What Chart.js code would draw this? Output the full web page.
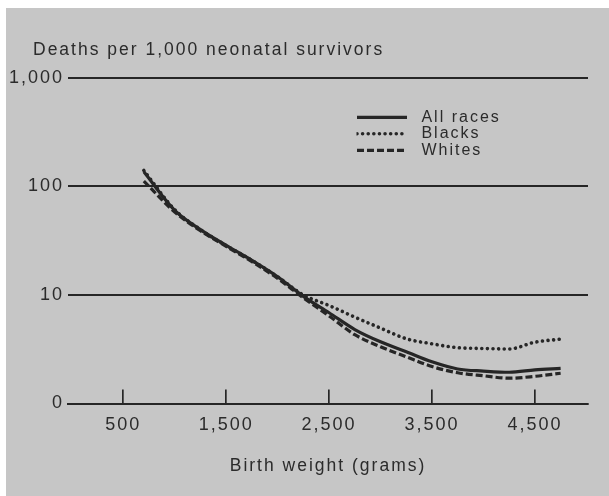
<!DOCTYPE html>
<html>
<head>
<meta charset="utf-8">
<script src="https://cdn.jsdelivr.net/npm/chart.js@4/dist/chart.umd.min.js"></script>
<style>
  html, body { margin: 0; padding: 0; background: #ffffff; }
  #wrap { position: relative; width: 609px; height: 496px; }
  canvas { display: block; }
</style>
</head>
<body>
<div id="wrap"><canvas id="c" width="609" height="496"></canvas></div>
<script>
// ---- data ----
const birthWeights = [700, 1000, 1250, 1500, 1750, 2000, 2250, 2500, 2750, 3000, 3250, 3500, 3750, 4000, 4250, 4500, 4750];
const allRaces = [136, 60, 40, 28.6, 20.8, 14.7, 9.7, 6.85, 4.8, 3.7, 3.0, 2.42, 2.08, 1.99, 1.94, 2.04, 2.11];
const blacks   = [140, 61, 40, 28.5, 20.8, 14.7, 10.0, 8.0, 6.25, 4.95, 3.95, 3.55, 3.27, 3.21, 3.18, 3.67, 3.92];
const whites   = [112, 58, 39, 28, 20.3, 14.2, 9.4, 6.4, 4.3, 3.33, 2.69, 2.19, 1.92, 1.80, 1.71, 1.78, 1.90];
const seriesNames = ['All races', 'Blacks', 'Whites'];
const xTickValues = [500, 1500, 2500, 3500, 4500];
const xTickLabels = ['500', '1,500', '2,500', '3,500', '4,500'];
const yTickValues = [1, 10, 100, 1000];
const yTickLabels = ['0', '10', '100', '1,000'];
const titleText = 'Deaths per 1,000 neonatal survivors';
const xTitleText = 'Birth weight (grams)';

const INK = '#2b2b2b';
const LINE = '#262626';
const BG = '#c6c6c6';
const FONT = "'Liberation Sans', Arial, Helvetica, sans-serif";

function pts(vals) { return birthWeights.map((x, i) => ({ x: x, y: vals[i] })); }

const spacingPlugin = {
  id: 'spacing',
  beforeUpdate(chart) { chart.ctx.letterSpacing = '2px'; },
  beforeDraw(chart) {
    const ctx = chart.ctx;
    ctx.letterSpacing = '2px';
    ctx.save();
    ctx.fillStyle = '#ffffff';
    ctx.fillRect(0, 0, chart.width, chart.height);
    ctx.fillStyle = BG;
    ctx.fillRect(6, 8, chart.width - 6, chart.height - 8);
    ctx.restore();
  },
  afterLayout(chart) {
    const lg = chart.legend;
    if (lg) {
      const w = lg.width, h = lg.height;
      lg.left = 356.5; lg.top = 108.8;
      lg.right = lg.left + w; lg.bottom = lg.top + h;
    }
    const tb = chart.titleBlock;
    if (tb) {
      const w = tb.right - tb.left;
      tb.left = 33; tb.right = 33 + w;
    }
  }
};

new Chart(document.getElementById('c'), {
  type: 'line',
  data: {
    datasets: [
      { label: seriesNames[0], data: pts(allRaces), borderColor: LINE, borderWidth: 3.2, borderDash: [], borderCapStyle: 'butt' },
      { label: seriesNames[1], data: pts(blacks), borderColor: LINE, borderWidth: 3.6, borderDash: [0.01, 5.6], borderCapStyle: 'round' },
      { label: seriesNames[2], data: pts(whites), borderColor: LINE, borderWidth: 3.2, borderDash: [7, 3], borderCapStyle: 'butt' }
    ]
  },
  options: {
    responsive: false,
    animation: false,
    devicePixelRatio: 1,
    events: [],
    layout: { padding: { left: 8, right: 21, top: 0, bottom: 0 } },
    elements: {
      point: { radius: 0 },
      line: { cubicInterpolationMode: 'monotone', fill: false }
    },
    plugins: {
      tooltip: { enabled: false },
      title: {
        display: true,
        text: titleText,
        align: 'start',
        color: INK,
        font: { family: FONT, size: 17.5, weight: 'normal' },
        padding: { top: 40, bottom: 16.8 }
      },
      legend: {
        display: true,
        position: 'chartArea',
        align: 'start',
        labels: {
          usePointStyle: true,
          pointStyle: 'line',
          pointStyleWidth: 50,
          boxHeight: 16,
          padding: 0.5,
          color: INK,
          font: { family: FONT, size: 16 },
          generateLabels(chart) {
            return chart.data.datasets.map((ds, i) => ({
              text: ' ' + ds.label,
              fillStyle: 'rgba(0,0,0,0)',
              strokeStyle: ds.borderColor,
              lineWidth: ds.borderWidth,
              lineDash: ds.borderDash,
              lineCap: ds.borderCapStyle,
              pointStyle: 'line',
              fontColor: INK,
              hidden: false,
              datasetIndex: i
            }));
          }
        }
      }
    },
    scales: {
      x: {
        type: 'linear',
        min: -37,
        max: 5016,
        afterBuildTicks(scale) { scale.ticks = xTickValues.map(v => ({ value: v })); },
        afterFit(scale) { scale.height = 92.5; },
        ticks: {
          color: INK,
          font: { family: FONT, size: 18 },
          padding: 25,
          maxRotation: 0,
          autoSkip: false,
          callback(value, index) { return xTickLabels[index]; }
        },
        grid: {
          drawOnChartArea: false,
          drawTicks: true,
          tickLength: -14,
          color: LINE,
          tickWidth: 1.7,
          lineWidth: 1.7
        },
        border: { display: true, color: LINE, width: 2 },
        title: {
          display: true,
          text: xTitleText,
          color: INK,
          font: { family: FONT, size: 17.5 },
          padding: { top: 0, bottom: 19.5 }
        }
      },
      y: {
        type: 'logarithmic',
        min: 1,
        max: 1000,
        afterBuildTicks(scale) { scale.ticks = yTickValues.map(v => ({ value: v })); },
        afterFit(scale) { scale.width = 60; },
        ticks: {
          color: INK,
          font: { family: FONT, size: 18 },
          padding: 4,
          autoSkip: false,
          callback(value, index) { return yTickLabels[index]; }
        },
        grid: {
          drawTicks: false,
          color: LINE,
          lineWidth: 2
        },
        border: { display: false }
      }
    }
  },
  plugins: [spacingPlugin]
});
</script>
</body>
</html>
